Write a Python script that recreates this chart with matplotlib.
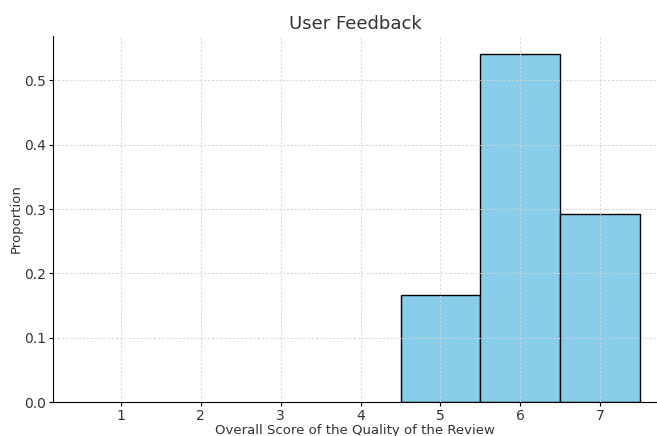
import matplotlib
matplotlib.use("Agg")
import matplotlib.pyplot as plt

scores = [5, 6, 7]
proportions = [4/24, 13/24, 7/24]
xticks = [1, 2, 3, 4, 5, 6, 7]
yticks = [0.0, 0.1, 0.2, 0.3, 0.4, 0.5]

fig = plt.figure(figsize=(6.57, 4.36), dpi=100)
ax = fig.add_axes([53/657, 1-402/436, 1-53/657, (402-36)/436])
ax.bar(scores, proportions, width=1.0, color="#87CEEB", edgecolor="black", linewidth=1.0, zorder=1)
ax.set_xlim(0.15, 7.71)
ax.set_ylim(0, 0.569)
ax.set_xticks(xticks)
ax.set_yticks(yticks)
ax.set_yticklabels([f"{v:.1f}" for v in yticks])
ax.grid(True, linestyle=(0, (3, 2)), color="#d5d5d5", linewidth=0.6, zorder=2)
ax.set_axisbelow(False)
for s in ["top", "right"]:
    ax.spines[s].set_visible(False)
ax.tick_params(labelsize=10, labelcolor="#333333", color="black", length=3, pad=2)
ax.set_title("User Feedback", fontsize=13, color="#333333", pad=5)
ax.set_xlabel("Overall Score of the Quality of the Review", fontsize=9.5, color="#333333", labelpad=1)
ax.set_ylabel("Proportion", fontsize=9.5, color="#333333", labelpad=1)
fig.savefig("out.png", dpi=100)
